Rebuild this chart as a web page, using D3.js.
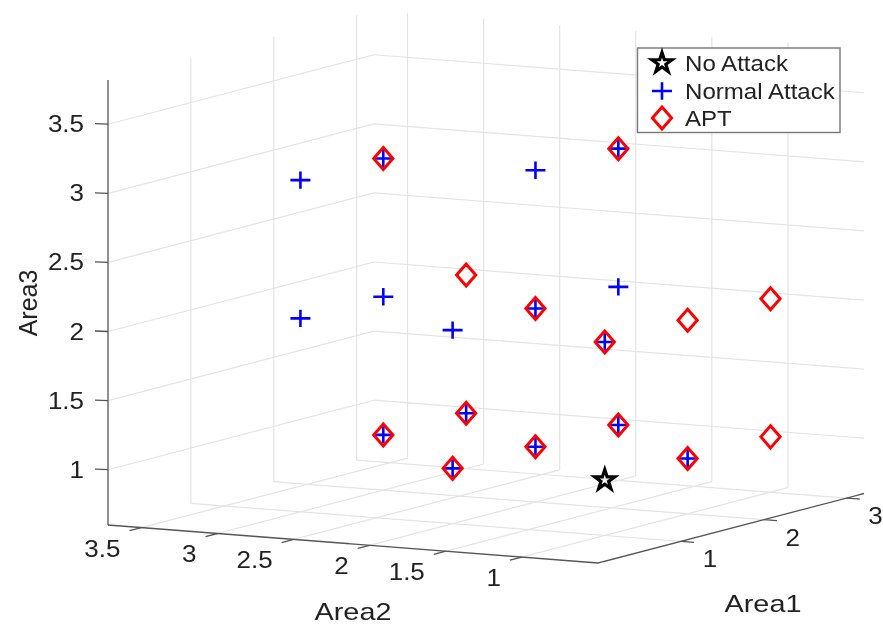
<!DOCTYPE html>
<html>
<head>
<meta charset="utf-8">
<script src="https://cdn.jsdelivr.net/npm/d3@7"></script>
<style>
  html, body { margin: 0; padding: 0; background: #fff; }
  svg { display: block; }
  text { font-family: "Liberation Sans", Arial, sans-serif; fill: #222; }
</style>
</head>
<body>
<div id="chart"></div>
<script>
// ── Data ───────────────────────────────────────────────────────────────
const noAttackArea1 = [1];
const noAttackArea2 = [1];
const noAttackArea3 = [1];

const normalArea1 = [2, 1, 2, 3, 2, 3, 1, 1, 2, 3, 2, 1, 1, 2, 2, 3];
const normalArea2 = [1, 2, 2, 2, 3, 3, 1, 2, 2, 2, 3, 3, 3, 3, 2, 2];
const normalArea3 = [1, 1, 1, 1, 1, 1, 2, 2, 2, 2, 2, 2, 3, 3, 3, 3];

const aptArea1 = [2, 3, 1, 2, 3, 2, 3, 1, 2, 3, 2, 3, 2, 3];
const aptArea2 = [1, 1, 2, 2, 2, 3, 3, 1, 1, 1, 2, 3, 3, 2];
const aptArea3 = [1, 1, 1, 1, 1, 1, 1, 2, 2, 2, 2, 2, 3, 3];

const area1Ticks = [1, 2, 3];
const area2Ticks = [1, 1.5, 2, 2.5, 3, 3.5];
const area3Ticks = [1, 1.5, 2, 2.5, 3, 3.5];
const legendLabels = ["No Attack", "Normal Attack", "APT"];

// ── Projection ─────────────────────────────────────────────────────────
const width = 883;
const height = 625;
const origin = { x: 598, y: 563 };
const area1Domain = [0, 3.21];
const area2Domain = [0.5, 3.72];
const area3Domain = [0.6, 3.82];

const a1X = d3.scaleLinear().domain(area1Domain).range([0, 266]);
const a1Y = d3.scaleLinear().domain(area1Domain).range([0, -69.5]);
const a2X = d3.scaleLinear().domain(area2Domain).range([0, -490]);
const a2Y = d3.scaleLinear().domain(area2Domain).range([0, -38]);
const a3Y = d3.scaleLinear().domain(area3Domain).range([0, -445]);

const px = (a1, a2) => origin.x + a1X(a1) + a2X(a2);
const py = (a1, a2, a3) => origin.y + a1Y(a1) + a2Y(a2) + a3Y(a3);

const [a1Min, a1Max] = area1Domain;
const [a2Min, a2Max] = area2Domain;
const [a3Min, a3Max] = area3Domain;

// ── SVG ────────────────────────────────────────────────────────────────
const svg = d3
  .select("#chart")
  .append("svg")
  .attr("width", width)
  .attr("height", height)
  .attr("viewBox", `0 0 ${width} ${height}`);

svg
  .append("defs")
  .append("filter")
  .attr("id", "soft")
  .attr("filterUnits", "userSpaceOnUse")
  .attr("x", 0)
  .attr("y", 0)
  .attr("width", width)
  .attr("height", height)
  .append("feGaussianBlur")
  .attr("stdDeviation", 0.45);

const g = svg.append("g").attr("filter", "url(#soft)");

function segment(parent, p, q, color, w) {
  parent
    .append("line")
    .attr("x1", p[0])
    .attr("y1", p[1])
    .attr("x2", q[0])
    .attr("y2", q[1])
    .attr("stroke", color)
    .attr("stroke-width", w);
}

const pt = (a1, a2, a3) => [px(a1, a2), py(a1, a2, a3)];

// the reference is stretched sideways, so text gets a horizontal scale
function label(x, y, str, anchor, size, sx) {
  return g
    .append("text")
    .attr("transform", `translate(${x},${y}) scale(${sx},1)`)
    .attr("text-anchor", anchor)
    .style("font-size", `${size}px`)
    .text(str);
}

// ── Grid Lines ─────────────────────────────────────────────────────────
const GRID = "#e4e4e4";
const grid = g.append("g").attr("class", "grid");

area1Ticks.forEach((t) => {
  segment(grid, pt(t, a2Min, a3Min), pt(t, a2Max, a3Min), GRID, 1.2);
  segment(grid, pt(t, a2Max, a3Min), pt(t, a2Max, a3Max), GRID, 1.2);
});

area2Ticks.forEach((t) => {
  segment(grid, pt(a1Min, t, a3Min), pt(a1Max, t, a3Min), GRID, 1.2);
  segment(grid, pt(a1Max, t, a3Min), pt(a1Max, t, a3Max), GRID, 1.2);
});

area3Ticks.forEach((t) => {
  segment(grid, pt(a1Min, a2Max, t), pt(a1Max, a2Max, t), GRID, 1.2);
  segment(grid, pt(a1Max, a2Max, t), pt(a1Max, a2Min, t), GRID, 1.2);
});

// ── Axes ───────────────────────────────────────────────────────────────
const AXIS = "#555";
const axes = g.append("g").attr("class", "axes");

segment(axes, pt(a1Min, a2Max, a3Min), pt(a1Min, a2Max, a3Max), AXIS, 1.3);
segment(axes, pt(a1Min, a2Max, a3Min), pt(a1Min, a2Min, a3Min), AXIS, 1.3);
segment(axes, pt(a1Min, a2Min, a3Min), pt(a1Max, a2Min, a3Min), AXIS, 1.3);

area3Ticks.forEach((t) => {
  const p = pt(a1Min, a2Max, t);
  segment(axes, p, [p[0] - 13, p[1] - 0.5], AXIS, 1.3);
  label(p[0] - 24, p[1] + 8, t, "end", 23, 1.13);
});

area2Ticks.forEach((t) => {
  const p = pt(a1Min, t, a3Min);
  segment(axes, p, pt(a1Min - 0.145, t, a3Min), AXIS, 1.3);
  label(p[0] - 21, p[1] + 29, t, "end", 23, 1.13);
});

area1Ticks.forEach((t) => {
  const p = pt(t, a2Min, a3Min);
  segment(axes, p, pt(t, a2Min - 0.087, a3Min), AXIS, 1.3);
  label(p[0] + 29, p[1] + 26, t, "middle", 23, 1.13);
});

// ── Axis Labels ────────────────────────────────────────────────────────
label(353, 620, "Area2", "middle", 24, 1.2);
label(763, 612, "Area1", "middle", 24, 1.2);

g.append("text")
  .attr("transform", "translate(37,303) rotate(-90)")
  .attr("text-anchor", "middle")
  .style("font-size", "25px")
  .text("Area3");

// ── Markers ────────────────────────────────────────────────────────────
const plusPath = () => {
  const p = d3.path();
  p.moveTo(-10, 0);
  p.lineTo(10, 0);
  p.moveTo(0, -8.7);
  p.lineTo(0, 8.7);
  return p.toString();
};

const diamondPath = () => {
  const p = d3.path();
  p.moveTo(-9.6, 0);
  p.lineTo(0, -11);
  p.lineTo(9.6, 0);
  p.lineTo(0, 11);
  p.closePath();
  return p.toString();
};

const starPath = d3.symbol().type(d3.symbolStar).size(125)();

const markers = [
  { d: starPath, color: "#000", w: 3.2, area1: noAttackArea1, area2: noAttackArea2, area3: noAttackArea3 },
  { d: plusPath(), color: "#0000ff", w: 2.6, area1: normalArea1, area2: normalArea2, area3: normalArea3 },
  { d: diamondPath(), color: "#ff0000", w: 3, area1: aptArea1, area2: aptArea2, area3: aptArea3 },
];

markers.forEach((m, k) => {
  g.append("g")
    .attr("class", `series-${k}`)
    .selectAll("path")
    .data(m.area1.map((a1, i) => [a1, m.area2[i], m.area3[i]]))
    .join("path")
    .attr("transform", (d) => `translate(${px(d[0], d[1])},${py(d[0], d[1], d[2])})`)
    .attr("d", m.d)
    .attr("fill", "none")
    .attr("stroke", m.color)
    .attr("stroke-width", m.w);
});

// ── Legend ─────────────────────────────────────────────────────────────
const legend = g.append("g").attr("class", "legend");

legend
  .append("rect")
  .attr("x", 637.5)
  .attr("y", 48)
  .attr("width", 202.5)
  .attr("height", 84.5)
  .attr("fill", "#fff")
  .attr("stroke", "#777")
  .attr("stroke-width", 1.4);

const legendY = [63, 91, 118];
const legendBase = [71, 99, 126];

legendLabels.forEach((name, i) => {
  legend
    .append("path")
    .attr("transform", `translate(662,${legendY[i]})`)
    .attr("d", markers[i].d)
    .attr("fill", "none")
    .attr("stroke", markers[i].color)
    .attr("stroke-width", markers[i].w);

  legend
    .append("text")
    .attr("transform", `translate(685,${legendBase[i]}) scale(1.13,1)`)
    .style("font-size", "21.3px")
    .text(name);
});
</script>
</body>
</html>
